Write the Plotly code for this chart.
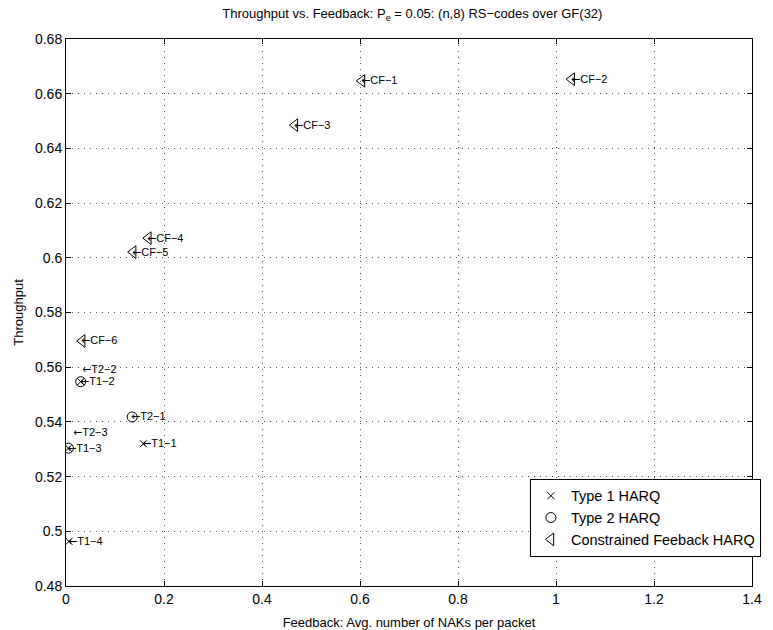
import plotly.graph_objects as go

# Type 1 HARQ
t1_names = ["T1\u22121", "T1\u22122", "T1\u22123", "T1\u22124"]
t1_x = [0.158, 0.030, 0.005, 0.006]
t1_y = [0.532, 0.5547, 0.5304, 0.4963]

# Type 2 HARQ
t2_names = ["T2\u22121", "T2\u22122", "T2\u22123"]
t2_x = [0.135, 0.030, 0.005]
t2_y = [0.5418, 0.5547, 0.5304]
# label anchor points for Type 2 (some offset to avoid overlap)
t2_lab_x = [0.135, 0.034, 0.016]
t2_lab_y = [0.5418, 0.5592, 0.5361]

# Constrained feedback HARQ
cf_names = ["CF\u22121", "CF\u22122", "CF\u22123", "CF\u22124", "CF\u22125", "CF\u22126"]
cf_x = [0.604, 1.032, 0.467, 0.168, 0.137, 0.033]
cf_y = [0.6647, 0.6653, 0.6485, 0.6072, 0.6021, 0.5696]

x_ticks = [0, 0.2, 0.4, 0.6, 0.8, 1, 1.2, 1.4]
x_tick_text = ["0", "0.2", "0.4", "0.6", "0.8", "1", "1.2", "1.4"]
y_ticks = [0.48, 0.5, 0.52, 0.54, 0.56, 0.58, 0.6, 0.62, 0.64, 0.66, 0.68]
y_tick_text = ["0.48", "0.5", "0.52", "0.54", "0.56", "0.58", "0.6", "0.62", "0.64", "0.66", "0.68"]

FONT = "Liberation Sans, Arial, Helvetica, sans-serif"

fig = go.Figure()
fig.add_trace(go.Scatter(
    x=t1_x, y=t1_y, mode="markers", name="Type 1 HARQ",
    marker=dict(symbol="x-thin-open", size=7, color="black", line=dict(width=1, color="black")),
))
fig.add_trace(go.Scatter(
    x=t2_x, y=t2_y, mode="markers", name="Type 2 HARQ",
    marker=dict(symbol="circle-open", size=10, color="black", line=dict(width=1, color="black")),
))
fig.add_trace(go.Scatter(
    x=cf_x, y=cf_y, mode="markers", name="Constrained Feeback HARQ",
    marker=dict(symbol="triangle-left-open", size=11, color="black", line=dict(width=1, color="black")),
))

annotations = []
def add_labels(xs, ys, names):
    for x, y, n in zip(xs, ys, names):
        annotations.append(dict(
            x=x, y=y, xref="x", yref="y",
            text="<span style='font-family:DejaVu Sans'>\u2190</span>" + n,
            showarrow=False,
            xanchor="left", yanchor="middle", xshift=-2,
            font=dict(family=FONT, size=11, color="black"), borderpad=0,
        ))

add_labels(t1_x, t1_y, t1_names)
add_labels(t2_lab_x, t2_lab_y, t2_names)
add_labels(cf_x, cf_y, cf_names)

axis_common = dict(
    showline=True, linecolor="black", linewidth=1, mirror="ticks",
    ticks="inside", ticklen=5, tickcolor="black",
    showgrid=True, gridcolor="#555", griddash="1px,5px", gridwidth=1,
    zeroline=False, tickfont=dict(family=FONT, size=14, color="black"),
)

fig.update_layout(
    width=773, height=630,
    margin=dict(l=66, r=14, t=39, b=44),
    paper_bgcolor="white", plot_bgcolor="white",
    title=dict(
        text="Throughput vs. Feedback: P<sub>e</sub> = 0.05: (n,8) RS\u2212codes over GF(32)",
        x=0.5335, xanchor="center", y=0.978, yanchor="middle",
        font=dict(family=FONT, size=13, color="black"),
    ),
    xaxis=dict(range=[0, 1.4], tickvals=x_ticks, ticktext=x_tick_text,
               automargin=False,
               title=dict(text="Feedback: Avg. number of NAKs per packet",
                          font=dict(family=FONT, size=13, color="black")),
               **axis_common),
    yaxis=dict(range=[0.48, 0.68], tickvals=y_ticks, ticktext=y_tick_text,
               automargin=True,
               title=dict(text="Throughput", standoff=8,
                          font=dict(family=FONT, size=13, color="black")),
               **axis_common),
    legend=dict(
        x=1.013, y=0.196, xanchor="right", yanchor="top",
        bgcolor="white", bordercolor="black", borderwidth=1,
        font=dict(family=FONT, size=14.5, color="black"),
        tracegroupgap=0,
    ),
    annotations=annotations,
    showlegend=True,
)

fig.write_html("out.html")
